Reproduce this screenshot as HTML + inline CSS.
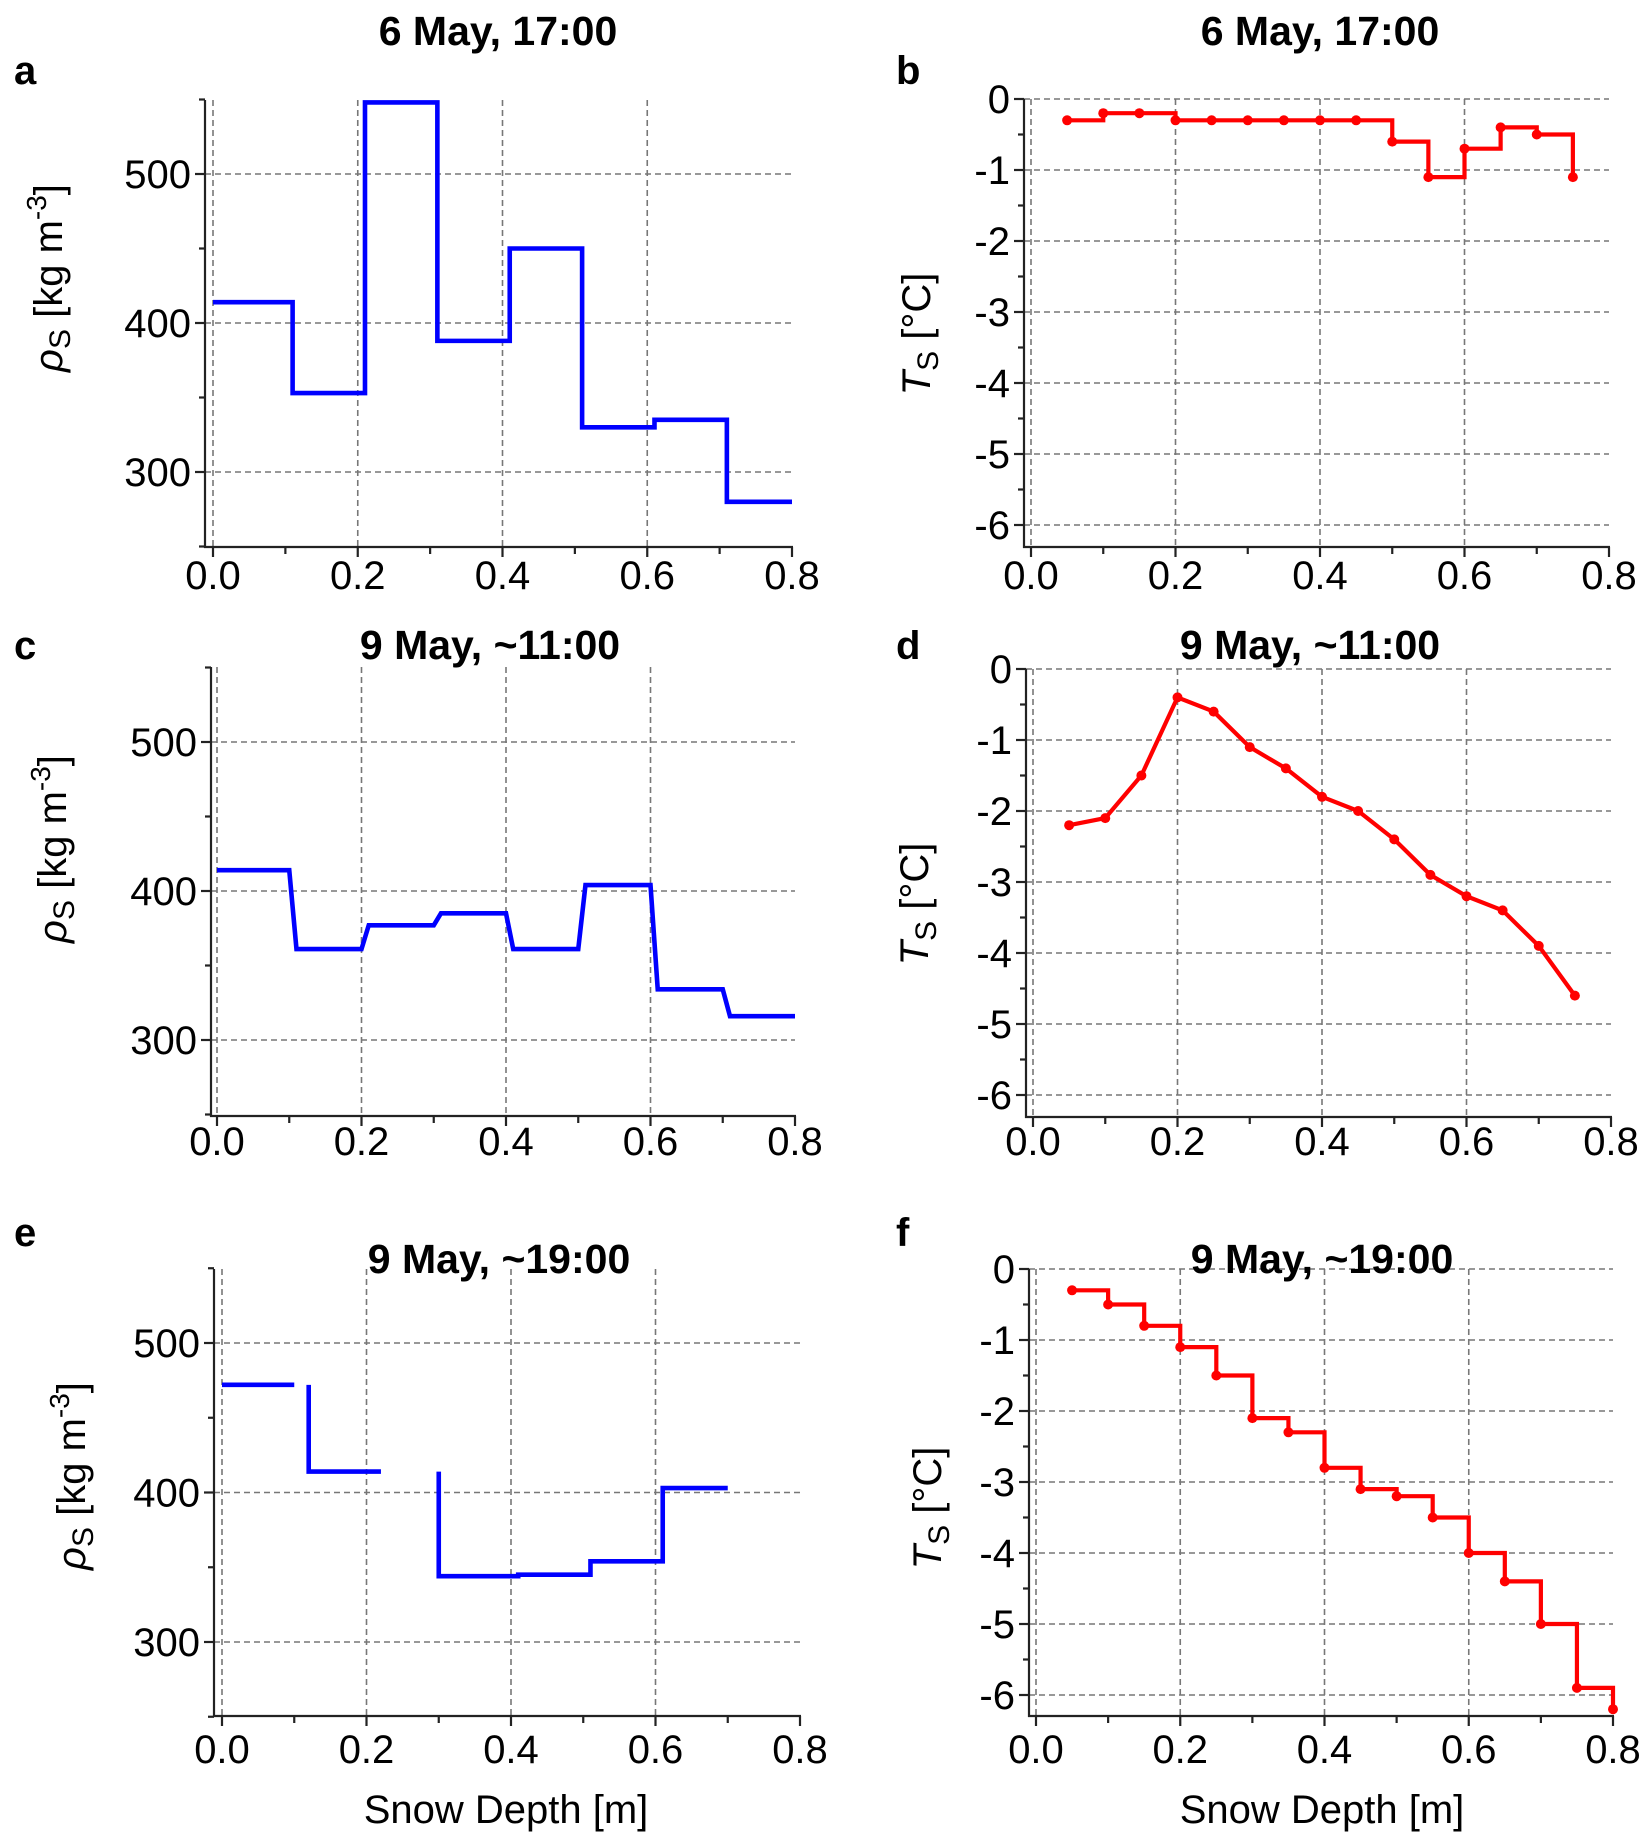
<!DOCTYPE html>
<html><head><meta charset="utf-8">
<style>
html,body{margin:0;padding:0;background:#fff;}
svg{display:block;}
text{font-family:"Liberation Sans Narrow","Liberation Sans",sans-serif;fill:#000;}
.tick{font-size:40px;}
.title{font-size:41px;font-weight:bold;font-family:"Liberation Sans Narrow","Liberation Sans",sans-serif;}
.letter{font-size:40px;font-weight:bold;font-family:"Liberation Sans",sans-serif;}
.ylab{font-size:40px;font-family:"Liberation Sans",sans-serif;}
</style></head>
<body>
<svg id="fig" width="1644" height="1834" viewBox="0 0 1644 1834" xmlns="http://www.w3.org/2000/svg"></svg>
<script>
// ---- data ----
const xTicks = [0.0, 0.2, 0.4, 0.6, 0.8];
const xTickLabels = ["0.0", "0.2", "0.4", "0.6", "0.8"];
const rhoTicks = [300, 400, 500];
const tTicks = [0, -1, -2, -3, -4, -5, -6];

// panel a: density step profile (6 May 17:00)
const aDepth = [0, 0.11, 0.11, 0.21, 0.21, 0.31, 0.31, 0.41, 0.41, 0.51, 0.51, 0.61, 0.61, 0.71, 0.71, 0.8];
const aRho   = [414, 414, 353, 353, 548, 548, 388, 388, 450, 450, 330, 330, 335, 335, 280, 280];

// panel b: temperature (6 May 17:00)
const bDepth = [0.05, 0.1, 0.15, 0.2, 0.25, 0.3, 0.35, 0.4, 0.45, 0.5, 0.55, 0.6, 0.65, 0.7, 0.75];
const bTemp  = [-0.3, -0.2, -0.2, -0.3, -0.3, -0.3, -0.3, -0.3, -0.3, -0.6, -1.1, -0.7, -0.4, -0.5, -1.1];

// panel c: density (9 May ~11:00)
const cDepth = [0, 0.1, 0.11, 0.2, 0.21, 0.3, 0.31, 0.4, 0.41, 0.5, 0.51, 0.6, 0.61, 0.7, 0.71, 0.8];
const cRho   = [414, 414, 361, 361, 377, 377, 385, 385, 361, 361, 404, 404, 334, 334, 316, 316];

// panel d: temperature (9 May ~11:00)
const dDepth = [0.05, 0.1, 0.15, 0.2, 0.25, 0.3, 0.35, 0.4, 0.45, 0.5, 0.55, 0.6, 0.65, 0.7, 0.75];
const dTemp  = [-2.2, -2.1, -1.5, -0.4, -0.6, -1.1, -1.4, -1.8, -2.0, -2.4, -2.9, -3.2, -3.4, -3.9, -4.6];

// panel e: density (9 May ~19:00), null = gap
const eDepth = [0, 0.1, null, 0.12, 0.12, 0.22, null, 0.3, 0.3, 0.41, 0.41, 0.51, 0.51, 0.61, 0.61, 0.7];
const eRho   = [472, 472, null, 472, 414, 414, null, 414, 344, 344, 345, 345, 354, 354, 403, 403];

// panel f: temperature (9 May ~19:00)
const fDepth = [0.05, 0.1, 0.15, 0.2, 0.25, 0.3, 0.35, 0.4, 0.45, 0.5, 0.55, 0.6, 0.65, 0.7, 0.75, 0.8];
const fTemp  = [-0.3, -0.5, -0.8, -1.1, -1.5, -2.1, -2.3, -2.8, -3.1, -3.2, -3.5, -4.0, -4.4, -5.0, -5.9, -6.2];

// ---- rendering ----
const NS = "http://www.w3.org/2000/svg";
const svg = document.getElementById("fig");
function mk(tag, attrs, parent) {
  const e = document.createElementNS(NS, tag);
  for (const k in attrs) e.setAttribute(k, attrs[k]);
  (parent || svg).appendChild(e);
  return e;
}

function panel(cfg) {
  const g = mk("g", {});
  
  
  const X = v => cfg.x0 + (v / 0.8) * (cfg.x8 - cfg.x0);
  const Y = v => cfg.yA + (v - cfg.vA) / (cfg.vB - cfg.vA) * (cfg.yB - cfg.yA);

  const grid = mk("g", {stroke: "#777", "stroke-width": 1.6, "stroke-dasharray": "6,4", fill: "none"}, g);
  
  
  for (let i = 0; i < xTicks.length - 1; i++) {
    const l = mk("line", {x1: X(xTicks[i]), x2: X(xTicks[i]), y1: cfg.top, y2: cfg.bottom}, grid);
    
    
  }
  cfg.yTicks.forEach(v => {
    const l = mk("line", {x1: cfg.axisX, x2: X(0.8), y1: Y(v), y2: Y(v)}, grid);
    
    
  });

  const ax = mk("g", {stroke: "#222", "stroke-width": 2.2, fill: "none"}, g);
  
  
  mk("line", {x1: cfg.axisX, x2: cfg.axisX, y1: cfg.top, y2: cfg.bottom + 1}, ax);
  mk("line", {x1: cfg.axisX - 1, x2: X(0.8) + 1, y1: cfg.bottom, y2: cfg.bottom}, ax);
  for (let v = 0; v <= 0.8001; v += 0.1) {
    const major = Math.abs(v * 5 - Math.round(v * 5)) < 1e-6;
    mk("line", {x1: X(v), x2: X(v), y1: cfg.bottom, y2: cfg.bottom + (major ? 10 : 7)}, ax);
  }
  cfg.yMinor.forEach(v => {
    mk("line", {x1: cfg.axisX, x2: cfg.axisX - 6, y1: Y(v), y2: Y(v)}, ax);
  });
  cfg.yTicks.forEach(v => {
    mk("line", {x1: cfg.axisX, x2: cfg.axisX - 10, y1: Y(v), y2: Y(v)}, ax);
  });

  xTicks.forEach((v, i) => {
    const t = mk("text", {x: X(v), y: cfg.xLabY, "text-anchor": "middle", class: "tick"}, g);
    t.textContent = xTickLabels[i];
    
    
  });
  cfg.yTicks.forEach(v => {
    const t = mk("text", {x: cfg.axisX - 14, y: Y(v) + 14, "text-anchor": "end", class: "tick"}, g);
    t.textContent = String(v);
    
    
  });

  const tt = mk("text", {x: cfg.titleX, y: cfg.titleY + 14, "text-anchor": "middle", class: "title"}, g);
  tt.textContent = cfg.title;
  
  
  const lt = mk("text", {x: cfg.letterX, y: cfg.letterY + 14, class: "letter"}, g);
  lt.textContent = cfg.id;
  
  

  const yl = mk("text", {transform: `translate(${cfg.ylabX},${cfg.ylabY}) rotate(-90)`, "text-anchor": "middle", class: "ylab"}, g);
  
  
  if (cfg.kind === "rho") {
    yl.innerHTML = '<tspan font-style="italic">ρ</tspan><tspan font-size="30" dy="8">S</tspan><tspan dy="-8"> [kg m</tspan><tspan font-size="28" dy="-16">-3</tspan><tspan dy="16">]</tspan>';
  } else {
    yl.innerHTML = '<tspan font-style="italic">T</tspan><tspan font-size="30" dy="8">S</tspan><tspan dy="-8"> [°C]</tspan>';
  }

  if (cfg.xlab) {
    const xl = mk("text", {x: cfg.xlabX, y: cfg.xlabY + 14, "text-anchor": "middle", class: "ylab"}, g);
    xl.textContent = "Snow Depth [m]";
    
    
  }

  let d = "";
  const xs = cfg.xs, ys = cfg.ys;
  let pen = false;
  if (cfg.step) {
    for (let i = 0; i < xs.length; i++) {
      if (i === 0) d += `M${X(xs[0])},${Y(ys[0])}`;
      else d += `L${X(xs[i])},${Y(ys[i - 1])}L${X(xs[i])},${Y(ys[i])}`;
    }
  } else {
    for (let i = 0; i < xs.length; i++) {
      if (xs[i] === null) { pen = false; continue; }
      d += (pen ? "L" : "M") + X(xs[i]) + "," + Y(ys[i]);
      pen = true;
    }
  }
  const p = mk("path", {d: d, fill: "none", stroke: cfg.color, "stroke-width": cfg.lw, "stroke-linejoin": "miter"}, g);
  
  
  if (cfg.markers) {
    xs.forEach((x, i) => {
      const c = mk("circle", {cx: X(x), cy: Y(ys[i]), r: 5, fill: cfg.color}, g);
      
      
    });
  }
}

const rhoMinor = [250, 350, 450, 550];
const tMinor = [-0.5, -1.5, -2.5, -3.5, -4.5, -5.5];

panel({id: "a", kind: "rho", title: "6 May, 17:00", x0: 213, x8: 792, axisX: 205, yA: 174, vA: 500, yB: 472, vB: 300, top: 100, bottom: 547,
  yTicks: rhoTicks, yMinor: rhoMinor, xLabY: 589, titleX: 498, titleY: 31, letterX: 14, letterY: 70, ylabX: 62, ylabY: 278,
  xs: aDepth, ys: aRho, color: "#0000ff", lw: 4.6, step: false, markers: false});
panel({id: "b", kind: "T", title: "6 May, 17:00", x0: 1031, x8: 1609, axisX: 1024, yA: 99, vA: 0, yB: 525, vB: -6, top: 99, bottom: 547,
  yTicks: tTicks, yMinor: tMinor, xLabY: 589, titleX: 1320, titleY: 31, letterX: 896, letterY: 70, ylabX: 930, ylabY: 334,
  xs: bDepth, ys: bTemp, color: "#ff0000", lw: 4.2, step: true, markers: true});
panel({id: "c", kind: "rho", title: "9 May, ~11:00", x0: 217, x8: 795, axisX: 211, yA: 742, vA: 500, yB: 1040, vB: 300, top: 667, bottom: 1116,
  yTicks: rhoTicks, yMinor: rhoMinor, xLabY: 1155, titleX: 490, titleY: 645, letterX: 14, letterY: 645, ylabX: 66, ylabY: 849,
  xs: cDepth, ys: cRho, color: "#0000ff", lw: 4.6, step: false, markers: false});
panel({id: "d", kind: "T", title: "9 May, ~11:00", x0: 1033, x8: 1611, axisX: 1026, yA: 669, vA: 0, yB: 1095, vB: -6, top: 669, bottom: 1117,
  yTicks: tTicks, yMinor: tMinor, xLabY: 1155, titleX: 1310, titleY: 645, letterX: 896, letterY: 645, ylabX: 928, ylabY: 904,
  xs: dDepth, ys: dTemp, color: "#ff0000", lw: 4.2, step: false, markers: true});
panel({id: "e", kind: "rho", title: "9 May, ~19:00", x0: 222, x8: 800, axisX: 214, yA: 1343, vA: 500, yB: 1642, vB: 300, top: 1269, bottom: 1716,
  yTicks: rhoTicks, yMinor: rhoMinor, xLabY: 1763, titleX: 499, titleY: 1259, letterX: 14, letterY: 1232, ylabX: 85, ylabY: 1476,
  xs: eDepth, ys: eRho, color: "#0000ff", lw: 4.6, step: false, markers: false, xlab: true, xlabX: 506, xlabY: 1809});
panel({id: "f", kind: "T", title: "9 May, ~19:00", x0: 1036, x8: 1613, axisX: 1029, yA: 1269, vA: 0, yB: 1695, vB: -6, top: 1269, bottom: 1716,
  yTicks: tTicks, yMinor: tMinor, xLabY: 1763, titleX: 1322, titleY: 1259, letterX: 896, letterY: 1232, ylabX: 941, ylabY: 1508,
  xs: fDepth, ys: fTemp, color: "#ff0000", lw: 4.2, step: true, markers: true, xlab: true, xlabX: 1322, xlabY: 1809});
</script>
</body></html>
